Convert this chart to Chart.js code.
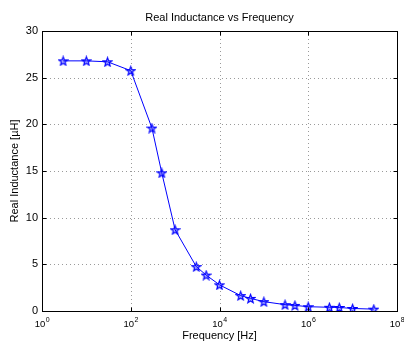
<!DOCTYPE html>
<html>
<head>
<meta charset="utf-8">
<script src="https://cdn.jsdelivr.net/npm/chart.js@4.4.0/dist/chart.umd.min.js"></script>
<style>
  html, body { margin: 0; padding: 0; background: #fff; }
  #wrap { width: 404px; height: 344px; }
</style>
</head>
<body>
<div id="wrap"><canvas id="c" width="404" height="344"></canvas></div>
<script>
// Measured real inductance across frequency
const frequencies = [3, 10, 30, 100, 300, 500, 1000, 3000, 5000, 1e4, 3e4, 5e4, 1e5, 3e5, 5e5, 1e6, 3e6, 5e6, 1e7, 3e7];
const inductance = [26.8, 26.8, 26.7, 25.75, 19.6, 14.8, 8.7, 4.75, 3.85, 2.8, 1.65, 1.35, 1.0, 0.68, 0.6, 0.46, 0.4, 0.38, 0.27, 0.2];
const xTickExponents = [0, 2, 4, 6, 8];
const yTickValues = [0, 5, 10, 15, 20, 25, 30];
const titleText = 'Real Inductance vs Frequency';
const xTitleText = 'Frequency [Hz]';
const yTitleText = 'Real Inductance [\u00b5H]';

const FONT = '"Liberation Sans", Arial, Helvetica, sans-serif';
const BLUE = '#0000ff';

// Five-pointed star outline used as the point marker
function makePentagram(size, color) {
  const cv = document.createElement('canvas');
  cv.width = size; cv.height = size;
  const g = cv.getContext('2d');
  const cx = size / 2, cy = size / 2 + 0.5;
  const ro = size / 2 - 1, ri = ro * 0.42;
  g.beginPath();
  for (let i = 0; i < 10; i++) {
    const r = i % 2 === 0 ? ro : ri;
    const a = -Math.PI / 2 + i * Math.PI / 5;
    const x = cx + r * Math.cos(a), y = cy + r * Math.sin(a);
    if (i === 0) g.moveTo(x, y); else g.lineTo(x, y);
  }
  g.closePath();
  g.fillStyle = 'rgba(0,0,255,0.3)';
  g.fill();
  g.strokeStyle = color;
  g.lineWidth = 1.2;
  g.stroke();
  return cv;
}
const star = makePentagram(11, BLUE);

// Dotted grid beneath the data, axes box and labels on top
const axesPlugin = {
  id: 'matlabAxes',
  beforeDatasetsDraw(chart) {
    const { ctx, chartArea: a, scales } = chart;
    ctx.save();
    ctx.strokeStyle = '#9a9a9a';
    ctx.lineWidth = 1;
    ctx.setLineDash([1, 3]);
    xTickExponents.forEach(e => {
      const px = Math.round(scales.x.getPixelForValue(Math.pow(10, e))) + 0.5;
      if (px <= a.left + 1 || px >= a.right - 1) return;
      ctx.beginPath(); ctx.moveTo(px, a.top); ctx.lineTo(px, a.bottom); ctx.stroke();
    });
    yTickValues.forEach(v => {
      const py = Math.round(scales.y.getPixelForValue(v)) + 0.5;
      if (py <= a.top + 1 || py >= a.bottom - 1) return;
      ctx.beginPath(); ctx.moveTo(a.left, py); ctx.lineTo(a.right, py); ctx.stroke();
    });
    ctx.restore();
  },
  afterDraw(chart) {
    const { ctx, chartArea: a, scales } = chart;
    const L = Math.round(a.left) + 0.5, R = Math.round(a.right) + 0.5;
    const T = Math.round(a.top) + 0.5, B = Math.round(a.bottom) + 0.5;
    ctx.save();
    ctx.strokeStyle = '#000';
    ctx.lineWidth = 1;
    ctx.strokeRect(L, T, R - L, B - T);
    const tl = 4;
    ctx.beginPath();
    xTickExponents.forEach(e => {
      const px = Math.round(scales.x.getPixelForValue(Math.pow(10, e))) + 0.5;
      ctx.moveTo(px, B); ctx.lineTo(px, B - tl);
      ctx.moveTo(px, T); ctx.lineTo(px, T + tl);
    });
    yTickValues.forEach(v => {
      const py = Math.round(scales.y.getPixelForValue(v)) + 0.5;
      ctx.moveTo(L, py); ctx.lineTo(L + tl, py);
      ctx.moveTo(R, py); ctx.lineTo(R - tl, py);
    });
    ctx.stroke();
    // bottom axis labels as powers of ten
    ctx.fillStyle = '#000';
    ctx.textBaseline = 'alphabetic';
    ctx.textAlign = 'left';
    const baseFont = '9.5px ' + FONT, supFont = '7px ' + FONT;
    xTickExponents.forEach(e => {
      const px = scales.x.getPixelForValue(Math.pow(10, e));
      ctx.font = baseFont;
      const w1 = ctx.measureText('10').width;
      ctx.font = supFont;
      const sup = String(e);
      const w2 = ctx.measureText(sup).width;
      const x0 = px - (w1 + w2) / 2;
      ctx.font = baseFont;
      ctx.fillText('10', x0, a.bottom + 16);
      ctx.font = supFont;
      ctx.fillText(sup, x0 + w1 + 0.5, a.bottom + 11);
    });
    // chart title centred over the plot area
    ctx.font = '11px ' + FONT;
    ctx.textAlign = 'center';
    ctx.textBaseline = 'middle';
    ctx.fillText(titleText, (a.left + a.right) / 2, 18);
    ctx.restore();
  }
};

new Chart(document.getElementById('c'), {
  type: 'line',
  data: {
    labels: frequencies,
    datasets: [{
      data: frequencies.map((f, i) => ({ x: f, y: inductance[i] })),
      borderColor: BLUE,
      backgroundColor: BLUE,
      borderWidth: 1,
      pointStyle: star,
      pointRadius: 5,
      pointHoverRadius: 5,
      tension: 0,
      fill: false
    }]
  },
  options: {
    responsive: false,
    devicePixelRatio: 1,
    animation: false,
    events: [],
    layout: { padding: { top: 31, right: 7, left: 0, bottom: 0 } },
    plugins: {
      legend: { display: false },
      title: { display: false },
      tooltip: { enabled: false }
    },
    scales: {
      x: {
        type: 'logarithmic',
        min: 1,
        max: 1e8,
        afterBuildTicks(scale) {
          scale.ticks = xTickExponents.map(e => ({ value: Math.pow(10, e) }));
        },
        afterFit(scale) { scale.height = 33; },
        grid: { display: false, drawTicks: false },
        border: { display: false },
        ticks: { display: false },
        title: {
          display: true,
          text: xTitleText,
          color: '#000',
          font: { family: FONT, size: 11 },
          padding: { top: 0, bottom: 1.5 }
        }
      },
      y: {
        type: 'linear',
        min: 0,
        max: 30,
        afterBuildTicks(scale) {
          scale.ticks = yTickValues.map(v => ({ value: v }));
        },
        afterFit(scale) { scale.width = 42; },
        grid: { display: false, drawTicks: false },
        border: { display: false },
        ticks: {
          color: '#000',
          padding: 4,
          font: { family: FONT, size: 11 }
        },
        title: {
          display: true,
          text: yTitleText,
          color: '#000',
          font: { family: FONT, size: 11 },
          padding: { top: 8, bottom: 0 }
        }
      }
    }
  },
  plugins: [axesPlugin]
});
</script>
</body>
</html>
